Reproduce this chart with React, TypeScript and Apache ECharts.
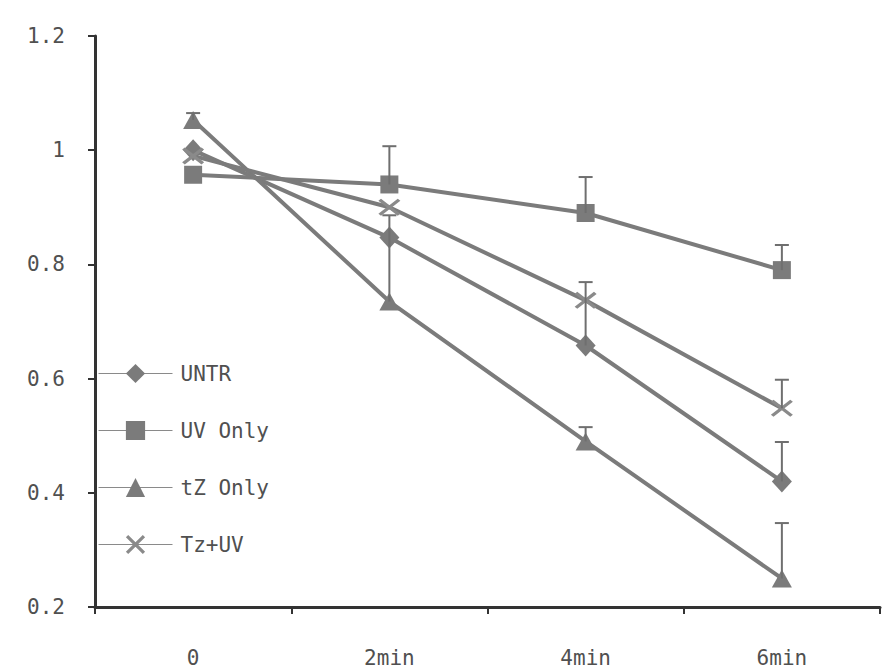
import React, { useEffect, useRef } from "react";
import * as echarts from "echarts";

const categories = ["0", "2min", "4min", "6min"];
const untr = [1.0, 0.847, 0.658, 0.42];
const uvOnly = [0.957, 0.94, 0.89, 0.79];
const tzOnly = [1.053, 0.735, 0.49, 0.25];
const tzUv = [0.99, 0.9, 0.737, 0.548];

const untrUpper = [null, null, 0.769, 0.489];
const uvUpper = [null, 1.007, 0.953, 0.834];
const tzOnlyUpper = [1.065, 0.886, 0.515, 0.347];
const tzUvUpper = [null, null, null, 0.598];

const seriesNames = ["UNTR", "UV Only", "tZ Only", "Tz+UV"];

const GRAY = "#7b7b7b";
const TEXT = "#505050";
const FONT = "'DejaVu Sans Mono', monospace";

const crossPath =
  "path://M0,1.2 L1.2,0 L10,8.8 L8.8,10 Z M8.8,0 L10,1.2 L1.2,10 L0,8.8 Z";

function errData(vals: number[], upper: (number | null)[]) {
  const out: number[][] = [];
  upper.forEach((u, i) => {
    if (u !== null) out.push([i, vals[i], u]);
  });
  return out;
}

export default function App() {
  const ref = useRef<HTMLDivElement>(null);
  useEffect(() => {
    if (!ref.current) return;
    const chart = echarts.init(ref.current, undefined, { renderer: "svg" });
    const lineSeries = (name: string, data: number[], symbol: string, size: any) => ({
      name,
      type: "line",
      data,
      symbol,
      symbolSize: size,
      showSymbol: true,
      lineStyle: { color: GRAY, width: 4 },
      itemStyle: { color: GRAY },
      z: 3,
    });
    const errSeries = (data: number[][]) => ({
      type: "custom",
      data,
      z: 4,
      renderItem: (params: any, api: any) => {
        const x = api.value(0);
        const p1 = api.coord([x, api.value(1)]);
        const p2 = api.coord([x, api.value(2)]);
        return {
          type: "group",
          children: [
            {
              type: "line",
              shape: { x1: p1[0], y1: p1[1], x2: p2[0], y2: p2[1] },
              style: { stroke: "#6f6f6f", lineWidth: 2 },
            },
            {
              type: "line",
              shape: { x1: p2[0] - 7, y1: p2[1], x2: p2[0] + 7, y2: p2[1] },
              style: { stroke: "#6f6f6f", lineWidth: 2 },
            },
          ],
        };
      },
    });
    chart.setOption({
      animation: false,
      backgroundColor: "#ffffff",
      grid: { left: 95, right: 2, top: 36, bottom: 64, containLabel: false },
      legend: {
        orient: "vertical",
        left: 93,
        top: 358,
        itemWidth: 74,
        itemHeight: 24,
        itemGap: 36,
        data: seriesNames,
        lineStyle: { width: 1, color: "#8a8a8a" },
        textStyle: { fontFamily: FONT, fontSize: 21, color: TEXT, padding: [0, 0, 0, 3] },
      },
      xAxis: {
        type: "category",
        data: categories,
        boundaryGap: true,
        axisLine: { lineStyle: { color: "#333", width: 3 } },
        axisTick: { show: true, length: 7, lineStyle: { color: "#333", width: 2 } },
        axisLabel: { fontFamily: FONT, fontSize: 21, color: TEXT, margin: 40 },
        splitLine: { show: false },
      },
      yAxis: {
        type: "value",
        min: 0.2,
        max: 1.2,
        interval: 0.2,
        axisLine: { show: true, lineStyle: { color: "#333", width: 3 } },
        axisTick: { show: true, length: 7, lineStyle: { color: "#333", width: 2 } },
        axisLabel: {
          fontFamily: FONT,
          fontSize: 21,
          color: TEXT,
          margin: 30,
          formatter: (v: number) => String(Number(v.toFixed(1))),
        },
        splitLine: { show: false },
      },
      series: [
        lineSeries(seriesNames[0], untr, "diamond", [20, 22]),
        lineSeries(seriesNames[1], uvOnly, "rect", 18),
        lineSeries(seriesNames[2], tzOnly, "triangle", [20, 18]),
        {
          ...lineSeries(seriesNames[3], tzUv, crossPath, [22, 17]),
          itemStyle: { color: "#8a8a8a" },
        },
        errSeries(errData(untr, untrUpper)),
        errSeries(errData(uvOnly, uvUpper)),
        errSeries(errData(tzOnly, tzOnlyUpper)),
        errSeries(errData(tzUv, tzUvUpper)),
      ],
    });
    return () => chart.dispose();
  }, []);
  return (
    <div
      ref={ref}
      style={{ position: "absolute", left: 0, top: 0, width: 882, height: 671 }}
    />
  );
}
